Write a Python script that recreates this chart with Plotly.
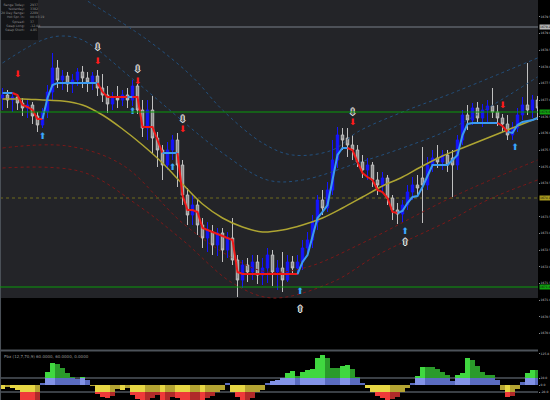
import plotly.graph_objects as go

# ---- price bars left to right (one per bar) ----
opens = [1677.06, 1677.15, 1677.00, 1677.09, 1676.91, 1676.76, 1676.85, 1676.52, 1676.25, 1676.64,
         1677.24, 1677.96, 1677.60, 1677.72, 1677.48, 1677.60, 1677.84, 1677.66, 1677.54, 1677.72,
         1677.36, 1677.15, 1676.88, 1677.06, 1677.00, 1677.15, 1677.00, 1677.42, 1676.70, 1676.16,
         1676.70, 1675.86, 1675.50, 1675.05, 1675.50, 1675.80, 1675.05, 1674.15, 1673.55, 1673.85,
         1673.25, 1672.86, 1673.04, 1672.65, 1673.01, 1672.50, 1672.86, 1672.20, 1671.60, 1672.05,
         1671.84, 1672.14, 1671.75, 1671.96, 1672.35, 1671.84, 1671.96, 1671.60, 1672.14, 1671.96,
         1672.14, 1672.56, 1672.80, 1673.34, 1674.00, 1673.76, 1674.30, 1675.20, 1675.95, 1675.86,
         1675.65, 1675.50, 1675.14, 1674.90, 1675.05, 1674.60, 1674.45, 1674.66, 1674.06, 1673.70,
         1673.58, 1673.85, 1674.24, 1674.45, 1674.66, 1674.45, 1675.05, 1675.26, 1675.14, 1675.35,
         1675.26, 1675.05, 1675.80, 1676.55, 1676.40, 1676.76, 1676.46, 1676.70, 1676.82, 1676.64,
         1676.46, 1676.28, 1675.95, 1676.16, 1676.55, 1676.85, 1676.70, 1677.00]
highs = [1677.36, 1677.30, 1677.24, 1677.18, 1677.06, 1677.00, 1676.94, 1676.64, 1676.76, 1677.45,
         1678.41, 1678.20, 1677.90, 1677.84, 1677.78, 1677.96, 1678.02, 1677.84, 1677.84, 1677.90,
         1677.78, 1677.42, 1677.24, 1677.42, 1677.30, 1677.36, 1677.60, 1677.48, 1677.00, 1677.00,
         1677.12, 1676.04, 1675.65, 1675.74, 1675.95, 1676.01, 1675.20, 1674.36, 1674.15, 1674.00,
         1673.46, 1673.34, 1673.25, 1673.16, 1673.16, 1673.04, 1673.46, 1672.35, 1672.20, 1672.26,
         1672.35, 1672.35, 1672.26, 1672.56, 1672.50, 1672.20, 1672.44, 1672.35, 1672.32, 1672.35,
         1672.80, 1673.04, 1673.55, 1674.15, 1674.30, 1674.54, 1675.80, 1676.19, 1676.16, 1676.16,
         1675.95, 1675.65, 1675.35, 1675.26, 1675.14, 1674.84, 1674.84, 1674.75, 1674.15, 1673.91,
         1674.00, 1674.45, 1674.69, 1674.75, 1675.59, 1675.29, 1675.50, 1675.65, 1675.50, 1675.50,
         1675.50, 1675.95, 1676.70, 1676.85, 1676.91, 1676.94, 1676.88, 1677.00, 1677.36, 1676.85,
         1676.58, 1676.55, 1676.34, 1676.76, 1677.09, 1678.11, 1677.15, 1677.12]
lows = [1676.70, 1676.76, 1676.64, 1676.70, 1676.52, 1676.46, 1676.28, 1676.04, 1676.16, 1676.46,
        1677.00, 1677.36, 1677.30, 1677.24, 1677.21, 1677.42, 1677.36, 1677.24, 1677.30, 1677.12,
        1676.94, 1676.61, 1676.70, 1676.76, 1676.82, 1676.76, 1676.82, 1676.58, 1675.89, 1675.80,
        1675.41, 1674.99, 1674.60, 1674.90, 1675.20, 1674.39, 1673.85, 1673.25, 1673.25, 1672.95,
        1672.56, 1672.44, 1672.35, 1672.32, 1672.14, 1672.26, 1672.05, 1671.09, 1671.36, 1671.54,
        1671.60, 1671.48, 1671.45, 1671.51, 1671.42, 1671.30, 1671.24, 1671.54, 1671.78, 1671.75,
        1671.90, 1672.35, 1672.56, 1673.10, 1673.55, 1673.64, 1674.15, 1674.96, 1675.50, 1675.29,
        1675.20, 1674.99, 1674.66, 1674.60, 1674.39, 1674.15, 1674.24, 1673.85, 1673.40, 1673.28,
        1673.34, 1673.70, 1674.00, 1674.15, 1673.31, 1674.30, 1674.84, 1674.96, 1674.90, 1674.84,
        1674.09, 1674.90, 1675.65, 1676.10, 1676.25, 1676.28, 1676.19, 1676.34, 1676.46, 1676.22,
        1676.04, 1675.80, 1675.80, 1676.04, 1676.40, 1676.55, 1676.46, 1676.40]
closes = [1677.15, 1677.00, 1677.09, 1676.91, 1676.76, 1676.85, 1676.52, 1676.25, 1676.64, 1677.24,
          1677.96, 1677.60, 1677.72, 1677.48, 1677.60, 1677.84, 1677.66, 1677.54, 1677.72, 1677.36,
          1677.15, 1676.88, 1677.06, 1677.00, 1677.15, 1677.00, 1677.42, 1676.70, 1676.16, 1676.70,
          1675.86, 1675.50, 1675.05, 1675.50, 1675.80, 1675.05, 1674.15, 1673.55, 1673.85, 1673.25,
          1672.86, 1673.10, 1672.65, 1673.01, 1672.50, 1672.86, 1672.20, 1671.60, 1672.05, 1671.84,
          1672.14, 1671.75, 1671.96, 1672.35, 1671.84, 1671.96, 1671.60, 1672.14, 1671.96, 1672.14,
          1672.56, 1672.80, 1673.34, 1674.00, 1673.76, 1674.30, 1675.20, 1675.95, 1675.80, 1675.65,
          1675.50, 1675.14, 1674.90, 1675.05, 1674.60, 1674.45, 1674.66, 1674.06, 1673.70, 1673.58,
          1673.85, 1674.24, 1674.45, 1674.36, 1674.45, 1675.05, 1675.26, 1675.14, 1675.35, 1675.05,
          1675.05, 1675.80, 1676.55, 1676.40, 1676.76, 1676.46, 1676.70, 1676.82, 1676.64, 1676.46,
          1676.28, 1675.95, 1676.16, 1676.55, 1676.85, 1676.70, 1677.00, 1676.76]
bars = list(range(len(closes)))

# ---- trailing stop line and its direction (1 = up / light blue, -1 = down / red) ----
trail = [1677.21, 1677.21, 1677.21, 1677.15, 1676.85, 1676.79, 1676.70, 1676.43, 1676.43, 1677.06,
         1677.45, 1677.51, 1677.51, 1677.51, 1677.51, 1677.51, 1677.51, 1677.51, 1677.51, 1677.51,
         1677.24, 1677.09, 1677.09, 1677.09, 1677.09, 1677.09, 1677.09, 1677.09, 1676.19, 1676.19,
         1676.19, 1675.80, 1675.41, 1675.41, 1675.41, 1675.41, 1674.15, 1673.70, 1673.70, 1673.64,
         1673.16, 1673.10, 1673.04, 1672.98, 1672.92, 1672.86, 1672.80, 1671.84, 1671.78, 1671.78,
         1671.78, 1671.78, 1671.78, 1671.78, 1671.78, 1671.78, 1671.78, 1671.78, 1671.78, 1671.78,
         1672.14, 1672.35, 1672.95, 1673.46, 1673.64, 1673.85, 1674.60, 1675.35, 1675.56, 1675.56,
         1675.50, 1675.14, 1674.81, 1674.69, 1674.60, 1674.30, 1674.24, 1674.06, 1673.64, 1673.61,
         1673.67, 1673.91, 1674.09, 1674.12, 1674.39, 1674.72, 1675.05, 1675.05, 1675.05, 1675.05,
         1675.20, 1675.35, 1675.95, 1676.28, 1676.31, 1676.31, 1676.31, 1676.31, 1676.31, 1676.31,
         1676.22, 1676.04, 1676.01, 1676.25, 1676.34, 1676.37, 1676.40, 1676.46]
trend = [1, 1, 1, -1, -1, -1, -1, -1, -1, 1,
         1, 1, 1, 1, 1, 1, 1, 1, 1, 1,
         -1, -1, -1, -1, -1, -1, 1, -1, -1, -1,
         -1, -1, -1, 1, 1, 1, -1, -1, -1, -1,
         -1, -1, -1, -1, -1, -1, -1, -1, -1, -1,
         -1, -1, -1, -1, -1, -1, -1, -1, -1, -1,
         1, 1, 1, 1, 1, 1, 1, 1, 1, 1,
         -1, -1, -1, -1, -1, -1, -1, -1, -1, -1,
         1, 1, 1, 1, 1, 1, 1, 1, 1, 1,
         1, 1, 1, 1, 1, 1, 1, 1, 1, 1,
         -1, -1, 1, 1, 1, 1, 1, 1]

# ---- slow moving average (yellow) ----
ma_bars = [0, 4, 8, 12, 16, 20, 24, 28, 32, 36, 40, 44, 48, 52, 56, 60, 64, 68, 72, 76,
           80, 84, 88, 92, 96, 100, 104, 107]
ma_vals = [1677.03, 1677.03, 1677.00, 1676.97, 1676.85, 1676.55, 1676.13, 1675.65, 1675.11, 1674.48,
           1673.88, 1673.46, 1673.19, 1673.04, 1673.10, 1673.25, 1673.46, 1673.76, 1674.09, 1674.42,
           1674.69, 1675.02, 1675.32, 1675.56, 1675.80, 1676.04, 1676.28, 1676.46]

# ---- envelope bands (dotted) ----
up_outer_bars = [16, 29, 38, 44, 52, 58, 66, 71, 80, 90, 107]
up_outer_vals = [1680.06, 1678.80, 1677.69, 1676.70, 1675.71, 1675.35, 1675.50, 1676.04, 1676.64, 1677.21, 1678.26]
up_inner_bars = [0, 8, 12, 16, 27, 44, 53, 60, 71, 80, 90, 107]
up_inner_vals = [1678.11, 1678.80, 1678.92, 1678.80, 1677.51, 1675.41, 1674.60, 1674.60, 1675.11, 1675.56,
                 1676.16, 1677.69]
lo_inner_bars = [0, 13, 24, 36, 46, 53, 61, 72, 90, 107]
lo_inner_vals = [1675.56, 1675.62, 1675.05, 1673.31, 1672.26, 1671.84, 1671.99, 1672.71, 1674.09, 1675.20]
lo_outer_bars = [0, 16, 27, 36, 46, 54, 66, 75, 90, 97, 107]
lo_outer_vals = [1674.96, 1674.84, 1673.85, 1672.80, 1671.51, 1671.06, 1671.54, 1672.35, 1673.43, 1674.00, 1674.60]

# ---- horizontal levels ----
green_levels = [1676.64, 1671.39]
grey_level = 1679.19
olive_level = 1674.06
panel_floor = 1671.06

# ---- signal arrows ----
red_dn_bars = [3, 19, 27, 36, 70, 100]
red_dn_vals = [1677.75, 1678.14, 1677.54, 1676.10, 1676.31, 1676.82]
white_dn_bars = [19, 27, 36, 70]
white_dn_vals = [1678.56, 1677.90, 1676.40, 1676.61]
cyan_up_bars = [8, 26, 34, 59.5, 80.5, 102.5]
cyan_up_vals = [1675.89, 1676.64, 1674.96, 1671.24, 1673.04, 1675.56]
white_up_bars = [59.5, 80.5]
white_up_vals = [1670.70, 1672.71]

# ---- oscillator histogram (lower window) ----
osc = [-16, -8, -12, -20, -64, -70, -72, -66, 6, 52,
       88, 84, 68, 48, 32, 26, 30, 20, -4, -36,
       -48, -52, -44, -16, -20, -12, -40, -56, -62, -60,
       -52, -40, -64, -58, -48, -52, -62, -66, -64, -60,
       -62, -52, -44, -28, -20, 8, -28, -48, -62, -60,
       -52, -28, -20, 6, 16, 20, 28, 48, 56, 36,
       52, 60, 64, 108, 120, 108, 68, 68, 76, 80,
       64, 32, 8, -12, -28, -44, -52, -60, -56, -48,
       -28, -12, 8, 36, 72, 72, 72, 64, 52, 40,
       16, 40, 48, 108, 100, 76, 52, 40, 40, 20,
       -20, -48, -44, -16, 12, 48, 60, 60]
osc_level = 28

price_ticks = [1670.0, 1670.5, 1671.0, 1671.5, 1672.0, 1672.5, 1673.0, 1673.5, 1674.5, 1675.0,
               1675.5, 1676.0, 1676.5, 1677.0, 1677.5, 1678.0, 1678.5, 1679.0, 1679.5]
osc_ticks = [125.8, 28, 0, -28]
info_labels = ["Range Today:", "Yesterday:", "20 Day Range:", "Hot Spr. in:", "Spread:", "Swap Long:", "Swap Short:"]
info_values = ["2937", "3382", "2289", "00:03:19", "37", "-12.04", "4.85"]

fig = go.Figure()

# candles
fig.add_trace(go.Candlestick(
    x=bars, open=opens, high=highs, low=lows, close=closes,
    increasing=dict(line=dict(color='#1414ff', width=1), fillcolor='#1414ff'),
    decreasing=dict(line=dict(color='#c0c0c0', width=1), fillcolor='#8c8c8c'),
    hoverinfo='skip', yaxis='y'))

# dotted bands
for bx, by, col in [(up_outer_bars, up_outer_vals, '#22507e'), (up_inner_bars, up_inner_vals, '#22507e'),
                    (lo_inner_bars, lo_inner_vals, '#7c1818'), (lo_outer_bars, lo_outer_vals, '#7c1818')]:
    fig.add_trace(go.Scatter(x=bx, y=by, mode='lines', line=dict(color=col, width=1, dash='dot', shape='spline'),
                             hoverinfo='skip'))

# yellow average
fig.add_trace(go.Scatter(x=ma_bars, y=ma_vals, mode='lines',
                         line=dict(color='#aea532', width=1.5, shape='spline'), hoverinfo='skip'))

# trailing line split by direction
start = 0
for i in range(1, len(trend) + 1):
    if i == len(trend) or trend[i] != trend[start]:
        s0 = max(start - 1, 0)
        col = '#3b9af0' if trend[start] == 1 else '#f01818'
        fig.add_trace(go.Scatter(x=bars[s0:i], y=trail[s0:i], mode='lines',
                                 line=dict(color=col, width=2), hoverinfo='skip'))
        start = i

# arrows: solid red / blue ones, grey ones with a white rim
outline = '-1px 0 #f0f0f0, 1px 0 #f0f0f0, 0 -1px #f0f0f0, 0 1px #f0f0f0'
for ax, ay, sym, col, shadow in [(red_dn_bars, red_dn_vals, '⬇', '#ff1a1a', 'none'),
                                 (white_dn_bars, white_dn_vals, '⬇', '#5a5a5a', outline),
                                 (cyan_up_bars, cyan_up_vals, '⬆', '#3aa8ff', 'none'),
                                 (white_up_bars, white_up_vals, '⬆', '#5a5a5a', outline)]:
    fig.add_trace(go.Scatter(x=ax, y=ay, mode='text', text=[sym] * len(ax),
                             textfont=dict(family='DejaVu Sans', size=9, color=col, shadow=shadow),
                             hoverinfo='skip'))

# oscillator split into blue / green / yellow / red parts
blue_h, green_h, yellow_h, red_h = [], [], [], []
blue_c, green_c, yellow_c, red_c = [], [], [], []
for i, v in enumerate(osc):
    prev = osc[i - 1] if i > 0 else 0
    bright = abs(v) > abs(prev)
    blue_h.append(min(v, osc_level) if v > 0 else 0)
    green_h.append(v - osc_level if v > osc_level else 0)
    yellow_h.append(max(v, -osc_level) if v < 0 else 0)
    red_h.append(v + osc_level if v < -osc_level else 0)
    blue_c.append('#8292e6' if bright else '#5a6bc0')
    green_c.append('#40d840' if bright else '#2a9a2a')
    yellow_c.append('#e6d644' if bright else '#b4a432')
    red_c.append('#ee3a3a' if bright else '#b02a2a')

for h, b, c in [(blue_h, 0, blue_c), (green_h, osc_level, green_c),
                (yellow_h, 0, yellow_c), (red_h, -osc_level, red_c)]:
    fig.add_trace(go.Bar(x=bars, y=h, base=b, width=1.0, marker=dict(color=c, line=dict(width=0)),
                         yaxis='y2', hoverinfo='skip'))

shapes = [
    # grey chart panel
    dict(type='rect', xref='paper', yref='y', x0=0, x1=1, y0=panel_floor, y1=1681,
         fillcolor='#232428', line=dict(width=0), layer='below'),
    # info box
    dict(type='rect', xref='paper', yref='paper', x0=0, x1=38 / 538, y0=1 - 40 / 400, y1=1,
         fillcolor='#141518', line=dict(width=0), layer='above'),
    dict(type='line', xref='paper', yref='y', x0=0, x1=1, y0=grey_level, y1=grey_level,
         line=dict(color='#5d6168', width=1.5), layer='below'),
    dict(type='line', xref='paper', yref='y', x0=0, x1=1, y0=olive_level, y1=olive_level,
         line=dict(color='#6e6a1c', width=1, dash='dot'), layer='below'),
    # window separator
    dict(type='rect', xref='paper', yref='paper', x0=0, x1=1, y0=1 - 351.5 / 400, y1=1 - 349.5 / 400,
         fillcolor='#4c5259', line=dict(width=0)),
    dict(type='line', xref='paper', yref='paper', x0=0.001, x1=0.001, y0=0, y1=1,
         line=dict(color='#4c5259', width=1)),
    dict(type='line', xref='paper', yref='y2', x0=0, x1=1, y0=osc_level, y1=osc_level,
         line=dict(color='#3a3f45', width=2), layer='below'),
    dict(type='line', xref='paper', yref='y2', x0=0, x1=1, y0=-osc_level, y1=-osc_level,
         line=dict(color='#3a3f45', width=2), layer='below'),
]
for lv in green_levels:
    shapes.append(dict(type='line', xref='paper', yref='y', x0=0, x1=1, y0=lv, y1=lv,
                       line=dict(color='#0b9a0b', width=1)))

annotations = [
    dict(xref='paper', yref='paper', x=27 / 538, y=1 - 1 / 400, xanchor='right', yanchor='top', align='right',
         text='<br>'.join(info_labels), showarrow=False, font=dict(size=3.2, color='#8c8c8c')),
    dict(xref='paper', yref='paper', x=28 / 538, y=1 - 1 / 400, xanchor='left', yanchor='top', align='left',
         text='<br>'.join(info_values), showarrow=False, font=dict(size=3.2, color='#8c8c8c')),
    dict(xref='paper', yref='paper', x=2 / 538, y=1 - 356 / 400, xanchor='left', yanchor='middle',
         text='Pbx (12,7,70,9) 60.0000, 60.0000, 0.0000', showarrow=False, font=dict(size=4, color='#9a9a9a')),
]
for lv, bg in [(grey_level, '#b5b5b5'), (green_levels[0], '#10a010'), (olive_level, '#a89a1e'),
               (green_levels[1], '#10a010')]:
    annotations.append(dict(xref='paper', yref='y', x=1.002, y=lv, xanchor='left', yanchor='middle',
                            text=f'{lv:.1f}', showarrow=False, bgcolor=bg, borderpad=0,
                            font=dict(size=3, color='#101010')))

fig.update_layout(
    width=550, height=400,
    margin=dict(l=0, r=12, t=0, b=0),
    paper_bgcolor='black', plot_bgcolor='black',
    showlegend=False, barmode='overlay', bargap=0,
    font=dict(family='DejaVu Sans', size=3, color='#c4c4c4'),
    xaxis=dict(range=[-0.5, 107.1], visible=False, rangeslider=dict(visible=False), fixedrange=True),
    yaxis=dict(domain=[1 - 349 / 400, 1], range=[1669.53, 1680.0], side='right', showgrid=False,
               zeroline=False, tickvals=price_ticks, ticktext=[f'{t:.1f}' for t in price_ticks],
               ticks='outside', ticklen=1, tickcolor='#8a8a8a', tickfont=dict(size=3, color='#c4c4c4')),
    yaxis2=dict(domain=[0, 1 - 352 / 400], range=[-60, 132], side='right', anchor='x', showgrid=False,
                zeroline=False, tickvals=osc_ticks, ticktext=[f'{t:.1f}' for t in osc_ticks],
                ticks='outside', ticklen=1, tickcolor='#8a8a8a', tickfont=dict(size=3, color='#c4c4c4')),
    shapes=shapes,
    annotations=annotations,
)

# browser default body margin would shift the chart by 8px
fig.write_html("out.html", config={'displayModeBar': False},
               post_script="document.body.style.margin='0px';")
